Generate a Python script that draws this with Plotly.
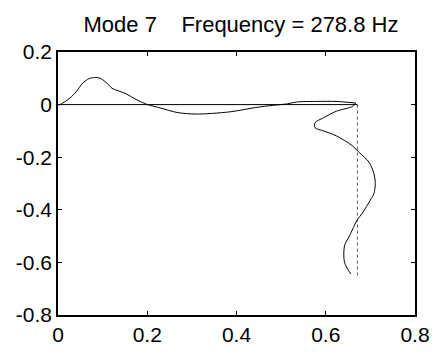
import plotly.graph_objects as go

# Undeformed frame
undeformed_h_x = [0.0, 0.671]
undeformed_h_y = [0.0, 0.0]
undeformed_v_x = [0.671, 0.671]
undeformed_v_y = [0.0, -0.652]

# Deformed mode shape: horizontal member
beam_x = [0.0, 0.004, 0.026, 0.041, 0.055, 0.070, 0.085, 0.096, 0.110, 0.121, 0.150,
          0.179, 0.201, 0.230, 0.267, 0.31, 0.383, 0.44, 0.47, 0.514, 0.535, 0.58,
          0.623, 0.667]
beam_y = [0.0, 0.0, 0.024, 0.049, 0.081, 0.099, 0.103, 0.099, 0.081, 0.062, 0.043,
          0.016, 0.0, -0.013, -0.03, -0.036, -0.028, -0.012, -0.005, 0.003, 0.01, 0.012,
          0.012, 0.006]

# Deformed mode shape: vertical member
column_x = [0.667, 0.66, 0.624, 0.595, 0.576, 0.576, 0.595, 0.624, 0.66, 0.675, 0.697,
            0.708, 0.711, 0.708, 0.700, 0.682, 0.671, 0.653, 0.642, 0.642, 0.656]
column_y = [0.006, -0.007, -0.025, -0.05, -0.069, -0.088, -0.1, -0.119, -0.157, -0.182,
            -0.219, -0.263, -0.3, -0.338, -0.363, -0.413, -0.437, -0.5, -0.537, -0.6, -0.644]

x_ticks = [0, 0.2, 0.4, 0.6, 0.8]
x_labels = ["0", "0.2", "0.4", "0.6", "0.8"]
y_ticks = [0.2, 0, -0.2, -0.4, -0.6, -0.8]
y_labels = ["0.2", "0", "-0.2", "-0.4", "-0.6", "-0.8"]

title_text = "Mode 7    Frequency = 278.8 Hz"

fig = go.Figure()
fig.add_trace(go.Scatter(x=undeformed_h_x, y=undeformed_h_y, mode="lines",
                         line=dict(color="black", width=1), showlegend=False))
fig.add_trace(go.Scatter(x=undeformed_v_x, y=undeformed_v_y, mode="lines",
                         line=dict(color="#555555", width=1, dash="dot"), showlegend=False))
fig.add_trace(go.Scatter(x=beam_x, y=beam_y, mode="lines",
                         line=dict(color="black", width=1, shape="spline", smoothing=0.8),
                         showlegend=False))
fig.add_trace(go.Scatter(x=column_x, y=column_y, mode="lines",
                         line=dict(color="black", width=1, shape="spline", smoothing=0.8),
                         showlegend=False))

font_family = "Liberation Sans, Arial, sans-serif"
axis_common = dict(showgrid=False, zeroline=False, showline=True, mirror="allticks",
                   linecolor="black", linewidth=1.5, ticks="inside", ticklen=4,
                   tickcolor="black", tickwidth=1,
                   tickfont=dict(family=font_family, size=21, color="black"))

fig.update_xaxes(range=[0, 0.8], tickvals=x_ticks, ticktext=x_labels, **axis_common)
fig.update_yaxes(range=[-0.8, 0.2], tickvals=y_ticks, ticktext=y_labels, **axis_common)

fig.update_layout(
    width=442, height=358,
    margin=dict(l=58, r=18, t=52, b=38),
    paper_bgcolor="white", plot_bgcolor="white",
    title=dict(text=title_text, x=(58 + 424) / 2 / 442, xanchor="center",
               yref="container", y=1 - 24 / 358, yanchor="middle",
               font=dict(family=font_family, size=22, color="black")),
)

fig.write_html("out.html")
